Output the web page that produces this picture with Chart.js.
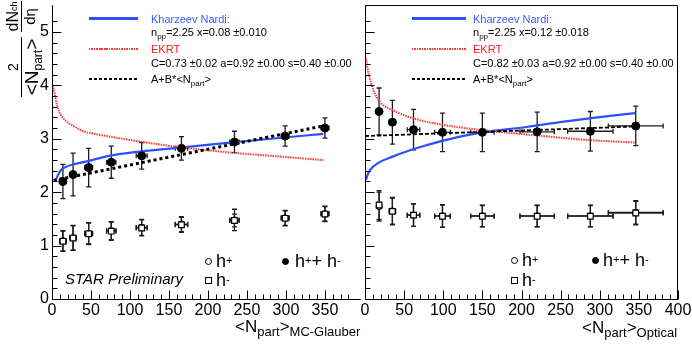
<!DOCTYPE html>
<html>
<head>
<meta charset="utf-8">
<script src="https://cdn.jsdelivr.net/npm/chart.js@4.4.1/dist/chart.umd.min.js"></script>
<style>
  html, body { margin: 0; padding: 0; background: #fff; }
  #wrap { position: relative; width: 692px; height: 344px; overflow: hidden;
          font-family: "Liberation Sans", Arial, sans-serif; color: #000; }
  #wrap canvas { position: absolute; top: 0; }
  .t { position: absolute; white-space: nowrap; }
  .leg { font-size: 11px; line-height: 13px; }
  .sb { font-size: 8px; position: relative; top: 3px; }
  .big { font-size: 18px; line-height: 20px; }
  .big sup { font-size: 11px; position: relative; top: -1px; vertical-align: top; }
  .ax { font-size: 17px; line-height: 20px; }
  .ax .s { font-size: 13px; position: relative; top: 4px; }
  .mk { position: absolute; width: 5px; height: 5px; border: 1px solid #000; background: #fff; }
  .mk.c { border-radius: 50%; }
  .mk.f { border-radius: 50%; background: #000; }
  .ln { position: absolute; height: 3px; }
</style>
</head>
<body>
<div id="wrap">
  <canvas id="cA" width="366" height="344" style="left:0"></canvas>
  <canvas id="cB" width="352" height="344" style="left:340px"></canvas>

  <!-- y axis title, rotated -->
  <div style="position:absolute;left:5px;top:107px;width:110px;height:40px;transform-origin:0 0;transform:rotate(-90deg);">
    <div class="t" style="left:10px;top:0;width:60px;text-align:center;font-size:14px;line-height:16px">2</div>
    <div style="position:absolute;left:10px;top:16px;width:60px;border-top:1px solid #000"></div>
    <div class="t" style="left:10px;top:18px;width:60px;text-align:center;font-size:19px;line-height:18px">&lt;N<span style="font-size:12px;position:relative;top:4px">part</span>&gt;</div>
    <div class="t" style="left:75px;top:0;width:31px;text-align:center;font-size:16px;line-height:16px">dN<span style="font-size:9px;position:relative;top:-1px">ch</span></div>
    <div style="position:absolute;left:75px;top:16px;width:31px;border-top:1px solid #000"></div>
    <div class="t" style="left:75px;top:17px;width:31px;text-align:center;font-size:15px;line-height:15px">dη</div>
  </div>

  <!-- legend, left panel -->
  <div class="ln" style="left:89px;top:17px;width:49px;background:#2f4fff"></div>
  <div class="t leg" style="left:151px;top:12.5px;color:#3a5cff">Kharzeev Nardi:</div>
  <div class="t leg" style="left:151px;top:25.5px">n<span class="sb">pp</span>=2.25 x=0.08 ±0.010</div>
  <div class="ln" style="left:89px;top:47.5px;width:49px;height:2px;background:repeating-linear-gradient(90deg,#ff3a3a 0 1.5px,transparent 1.5px 2.5px)"></div>
  <div class="t leg" style="left:151px;top:42.5px;color:#ff1a1a">EKRT</div>
  <div class="t leg" style="left:151px;top:56.5px">C=0.73 ±0.02 a=0.92 ±0.00 s=0.40 ±0.00</div>
  <div class="ln" style="left:89px;top:77.5px;width:49px;height:2px;background:repeating-linear-gradient(90deg,#000 0 3px,transparent 3px 5px)"></div>
  <div class="t leg" style="left:151px;top:72.5px">A+B*&lt;N<span class="sb">part</span>&gt;</div>

  <!-- legend, right panel -->
  <div class="ln" style="left:412px;top:17px;width:54px;background:#2f4fff"></div>
  <div class="t leg" style="left:473px;top:12.5px;color:#3a5cff">Kharzeev Nardi:</div>
  <div class="t leg" style="left:473px;top:25.5px">n<span class="sb">pp</span>=2.25 x=0.12 ±0.018</div>
  <div class="ln" style="left:412px;top:47.5px;width:54px;height:2px;background:repeating-linear-gradient(90deg,#ff3a3a 0 1.5px,transparent 1.5px 2.5px)"></div>
  <div class="t leg" style="left:473px;top:42.5px;color:#ff1a1a">EKRT</div>
  <div class="t leg" style="left:473px;top:56.5px">C=0.82 ±0.03 a=0.92 ±0.00 s=0.40 ±0.00</div>
  <div class="ln" style="left:412px;top:77.5px;width:54px;height:2px;background:repeating-linear-gradient(90deg,#000 0 3px,transparent 3px 5px)"></div>
  <div class="t leg" style="left:473px;top:72.5px">A+B*&lt;N<span class="sb">part</span>&gt;</div>

  <!-- marker legends -->
  <div class="mk c" style="left:204.5px;top:257.5px"></div>
  <div class="t big" style="left:216px;top:251px">h<sup>+</sup></div>
  <div class="mk" style="left:204.5px;top:276.5px"></div>
  <div class="t big" style="left:216px;top:270px">h<sup>-</sup></div>
  <div class="mk f" style="left:281.5px;top:257.5px"></div>
  <div class="t big" style="left:295px;top:251px">h<sup>+</sup>+ h<sup>-</sup></div>

  <div class="mk c" style="left:510.5px;top:256.5px"></div>
  <div class="t big" style="left:522px;top:250px">h<sup>+</sup></div>
  <div class="mk" style="left:510.5px;top:276.5px"></div>
  <div class="t big" style="left:522px;top:270px">h<sup>-</sup></div>
  <div class="mk f" style="left:591.5px;top:256.5px"></div>
  <div class="t big" style="left:603px;top:250px">h<sup>+</sup>+ h<sup>-</sup></div>

  <div class="t" style="left:65px;top:270px;font-size:15px;line-height:18px;font-style:italic">STAR Preliminary</div>

  <!-- x axis titles -->
  <div class="t ax" style="left:235px;top:317px">&lt;N<span class="s">part</span>&gt;<span class="s">MC-Glauber</span></div>
  <div class="t ax" style="left:582px;top:318px">&lt;N<span class="s">part</span>&gt;<span class="s">Optical</span></div>
</div>

<script>
// ---- MC-Glauber panel (left) ----
const npartGlauber    = [14, 27, 47, 76, 115, 166, 234, 299, 350];
const npartGlauberErr = [4, 4, 5, 6, 7, 8, 6, 5, 5];
const sumGlauber      = [2.20, 2.33, 2.46, 2.56, 2.68, 2.82, 2.94, 3.05, 3.20];
const sumGlauberErr   = [0.32, 0.40, 0.36, 0.30, 0.25, 0.22, 0.20, 0.19, 0.19];
const hPlusGlauber    = [1.09, 1.15, 1.23, 1.28, 1.34, 1.40, 1.48, 1.52, 1.60];
const hPlusGlauberErr = [0.19, 0.23, 0.20, 0.17, 0.15, 0.14, 0.20, 0.14, 0.14];
const hMinusGlauber   = [1.08, 1.14, 1.22, 1.27, 1.33, 1.39, 1.47, 1.51, 1.59];
const hMinusGlauberErr= [0.19, 0.23, 0.20, 0.17, 0.15, 0.14, 0.12, 0.14, 0.14];

const knGlauberX   = [4.4, 7, 10.8, 19, 27.6, 48.7, 69.8, 112, 154, 196, 238.6, 280.8, 348];
const knGlauberY   = [2.20, 2.30, 2.40, 2.48, 2.52, 2.59, 2.67, 2.76, 2.82, 2.88, 2.94, 3.00, 3.09];
const ekrtGlauberX = [1, 2.3, 6.6, 10.8, 19, 27.6, 40, 55, 70, 112, 154, 196, 238, 281, 348];
const ekrtGlauberY = [4.00, 3.92, 3.62, 3.46, 3.32, 3.24, 3.14, 3.09, 3.05, 2.95, 2.86, 2.79, 2.73, 2.68, 2.60];
const linGlauberX  = [2, 348];
const linGlauberY  = [2.22, 3.24];

// ---- Optical panel (right) ----
const npartOptical    = [18, 35, 62, 99, 150, 220, 288, 346];
const npartOpticalErr = [3, 4, 8, 10, 15, 22, 29, 35];
const sumOptical      = [3.51, 3.31, 3.17, 3.12, 3.12, 3.13, 3.14, 3.24];
const sumOpticalErr   = [0.44, 0.41, 0.38, 0.36, 0.36, 0.37, 0.37, 0.37];
const hPlusOptical    = [1.73, 1.65, 1.57, 1.555, 1.555, 1.555, 1.555, 1.62];
const hPlusOpticalErr = [0.27, 0.25, 0.21, 0.21, 0.20, 0.20, 0.20, 0.22];
const hMinusOptical   = [1.76, 1.64, 1.57, 1.55, 1.55, 1.55, 1.55, 1.61];
const hMinusOpticalErr= [0.27, 0.25, 0.21, 0.21, 0.20, 0.20, 0.20, 0.22];

const knOpticalX   = [1.3, 4.3, 10.6, 36.2, 78.8, 121.4, 150.4, 206.6, 249.2, 291.8, 345];
const knOpticalY   = [2.23, 2.36, 2.48, 2.67, 2.88, 3.04, 3.12, 3.22, 3.31, 3.39, 3.48];
const ekrtOpticalX = [1.3, 4.3, 10.6, 19, 36.2, 62, 100, 150.4, 206.6, 249.2, 291.8, 345];
const ekrtOpticalY = [4.50, 4.24, 3.92, 3.69, 3.53, 3.38, 3.26, 3.16, 3.08, 3.02, 2.97, 2.93];
const linOpticalX  = [0, 345];
const linOpticalY  = [3.05, 3.23];

// axis labels
const xTickLabels = [0, 50, 100, 150, 200, 250, 300, 350, 400];
const yTickLabels = [0, 1, 2, 3, 4, 5];

const pts = (xs, ys) => xs.map((x, i) => ({ x, y: ys[i] }));
const near = (v, step) => Math.abs(v / step - Math.round(v / step)) < 1e-6;

// draws error bars with small end caps, under the markers
const errorBars = {
  id: "errorBars",
  beforeDatasetsDraw(chart) {
    const { ctx, scales: { x, y } } = chart;
    const cap = 2.5;
    ctx.save();
    ctx.strokeStyle = "#1c1c1c";
    ctx.lineWidth = 1.3;
    chart.data.datasets.forEach(ds => {
      if (!ds.errY) return;
      ctx.beginPath();
      ds.data.forEach((p, i) => {
        const px = x.getPixelForValue(p.x);
        const py = y.getPixelForValue(p.y);
        const y1 = y.getPixelForValue(p.y - ds.errY[i]);
        const y2 = y.getPixelForValue(p.y + ds.errY[i]);
        ctx.moveTo(px, y1); ctx.lineTo(px, y2);
        ctx.moveTo(px - cap, y1); ctx.lineTo(px + cap, y1);
        ctx.moveTo(px - cap, y2); ctx.lineTo(px + cap, y2);
        if (ds.errX) {
          const x1 = x.getPixelForValue(p.x - ds.errX[i]);
          const x2 = x.getPixelForValue(p.x + ds.errX[i]);
          ctx.moveTo(x1, py); ctx.lineTo(x2, py);
          ctx.moveTo(x1, py - cap); ctx.lineTo(x1, py + cap);
          ctx.moveTo(x2, py - cap); ctx.lineTo(x2, py + cap);
        }
      });
      ctx.stroke();
    });
    ctx.restore();
  }
};

// ROOT-like frame: axis lines and inward tick marks
const rootFrame = {
  id: "rootFrame",
  afterDraw(chart, args, opts) {
    const { ctx, chartArea: a, scales: { x, y } } = chart;
    ctx.save();
    ctx.strokeStyle = "#000";
    ctx.lineWidth = 1;
    ctx.beginPath();
    const L = Math.round(a.left) + 0.5, B = Math.round(a.bottom) + 0.5;
    ctx.moveTo(L, a.top); ctx.lineTo(L, B); ctx.lineTo(a.right, B);
    if (opts.box) {
      const R = Math.round(a.right) - 0.5, T = Math.round(a.top) + 0.5;
      ctx.moveTo(R, B); ctx.lineTo(R, T); ctx.lineTo(L, T);
    }
    x.ticks.forEach(t => {
      if (!near(t.value, 10)) return;
      const px = Math.round(x.getPixelForValue(t.value)) + 0.5;
      const len = near(t.value, 50) ? 9 : 5;
      ctx.moveTo(px, B); ctx.lineTo(px, B - len);
    });
    y.ticks.forEach(t => {
      if (!near(t.value, 0.2)) return;
      const py = Math.round(y.getPixelForValue(t.value)) + 0.5;
      const len = near(t.value, 1) ? 9 : 5;
      ctx.moveTo(L, py); ctx.lineTo(L + len, py);
    });
    ctx.stroke();
    ctx.restore();
  }
};

function panelDatasets(nx, nxErr, sum, sumErr, hp, hpErr, hm, hmErr, knX, knY, ekX, ekY, linX, linY, linStyle) {
  return [
    { data: pts(nx, sum), errY: sumErr, errX: nxErr, pointStyle: "circle", pointRadius: 4,
      backgroundColor: "#000", borderColor: "#000", borderWidth: 1 },
    { data: pts(nx, hm), errY: hmErr, errX: nxErr, pointStyle: "rect", pointRadius: 4,
      backgroundColor: "#fff", borderColor: "#000", borderWidth: 1.2 },
    { data: pts(nx, hp), errY: hpErr, errX: nxErr, pointStyle: "circle", pointRadius: 2.8,
      backgroundColor: "#fff", borderColor: "#000", borderWidth: 1.2 },
    { data: pts(linX, linY), showLine: true, pointRadius: 0, borderColor: "#000",
      borderWidth: linStyle.w, borderDash: linStyle.dash },
    { data: pts(ekX, ekY), showLine: true, pointRadius: 0, borderColor: "#ff3838",
      borderWidth: 2, borderDash: [1.5, 1], cubicInterpolationMode: "monotone" },
    { data: pts(knX, knY), showLine: true, pointRadius: 0, borderColor: "#2f4fff",
      borderWidth: 2.2, cubicInterpolationMode: "monotone" }
  ];
}

function makeChart(id, datasets, xMax, yWidth, padRight, showYLabels, box) {
  return new Chart(document.getElementById(id), {
    type: "scatter",
    data: { datasets },
    plugins: [errorBars, rootFrame],
    options: {
      responsive: false,
      animation: false,
      events: [],
      layout: { padding: { top: 2, right: padRight, left: 0, bottom: 0 } },
      plugins: { legend: { display: false }, tooltip: { enabled: false }, rootFrame: { box } },
      scales: {
        x: {
          type: "linear", min: 0, max: xMax,
          grid: { display: false, drawTicks: false }, border: { display: false },
          afterFit: s => { s.height = 45; s.paddingLeft = 0; s.paddingRight = 0; },
          ticks: {
            stepSize: 10, autoSkip: false, maxRotation: 0, padding: 2, color: "#000",
            font: { family: "Liberation Sans", size: 16 },
            callback: v => xTickLabels.some(l => Math.abs(l - v) < 1e-6) ? String(Math.round(v)) : ""
          }
        },
        y: {
          type: "linear", min: 0, max: 5.5,
          grid: { display: false, drawTicks: false }, border: { display: false },
          afterFit: s => { s.width = yWidth; s.paddingTop = 0; s.paddingBottom = 0; },
          ticks: {
            stepSize: 0.2, autoSkip: false, padding: 3, color: "#000",
            font: { family: "Liberation Sans", size: 16 },
            callback: v => showYLabels && yTickLabels.some(l => Math.abs(l - v) < 1e-6) ? String(Math.round(v)) : ""
          }
        }
      }
    }
  });
}

makeChart("cA",
  panelDatasets(npartGlauber, npartGlauberErr, sumGlauber, sumGlauberErr, hPlusGlauber, hPlusGlauberErr,
    hMinusGlauber, hMinusGlauberErr, knGlauberX, knGlauberY, ekrtGlauberX, ekrtGlauberY,
    linGlauberX, linGlauberY, { w: 3, dash: [3, 3] }),
  396, 52, 1, true, false);

makeChart("cB",
  panelDatasets(npartOptical, npartOpticalErr, sumOptical, sumOpticalErr, hPlusOptical, hPlusOpticalErr,
    hMinusOptical, hMinusOpticalErr, knOpticalX, knOpticalY, ekrtOpticalX, ekrtOpticalY,
    linOpticalX, linOpticalY, { w: 1.8, dash: [4, 2] }),
  400, 25, 14, false, true);
</script>
</body>
</html>
